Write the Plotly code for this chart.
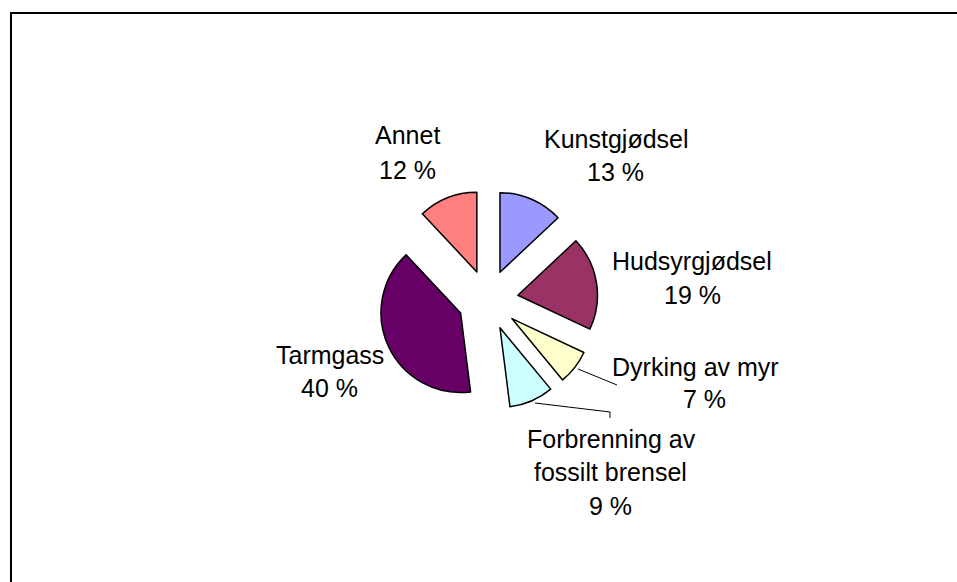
import plotly.graph_objects as go

# ---- data ----
categories = ["Kunstgjødsel", "Hudsyrgjødsel", "Dyrking av myr",
              "Forbrenning av fossilt brensel", "Tarmgass", "Annet"]
values = [13, 19, 7, 9, 40, 12]
colors = ["#9999FF", "#993366", "#FFFFCC", "#CCFFFF", "#660066", "#FF8080"]

W, H = 957, 582

fig = go.Figure(go.Pie(
    labels=categories,
    values=values,
    sort=False,
    direction="clockwise",
    rotation=0,
    pull=[0.38] * len(values),
    marker=dict(colors=colors, line=dict(color="black", width=1.5)),
    textinfo="none",
    hoverinfo="label+percent",
    domain=dict(x=[0.3951, 0.6247], y=[0.2954, 0.6736]),
    showlegend=False,
))

# label layout (pixel centres of each text line): name lines, then percentage line
label_lines = {
    "Kunstgjødsel": ["Kunstgjødsel"],
    "Hudsyrgjødsel": ["Hudsyrgjødsel"],
    "Dyrking av myr": ["Dyrking av myr"],
    "Forbrenning av fossilt brensel": ["Forbrenning av", "fossilt brensel"],
    "Tarmgass": ["Tarmgass"],
    "Annet": ["Annet"],
}
line_pos = {
    "Kunstgjødsel": [(616, 139), (615, 172)],
    "Hudsyrgjødsel": [(692, 261), (692, 295)],
    "Dyrking av myr": [(695, 367), (704, 399)],
    "Forbrenning av fossilt brensel": [(611, 439), (610, 472), (610, 506)],
    "Tarmgass": [(330, 355), (329, 388)],
    "Annet": [(407, 135), (407, 170)],
}

annotations = []
for cat, val in zip(categories, values):
    lines = label_lines[cat] + [f"{val} %"]
    for txt, (px, py) in zip(lines, line_pos[cat]):
        annotations.append(dict(
            x=px / W, y=1 - py / H, xref="paper", yref="paper",
            text=txt, showarrow=False, xanchor="center", yanchor="middle",
            font=dict(family="Liberation Sans, Arial, sans-serif", size=25, color="black"),
        ))

def seg(pts, width=1):
    path = "M " + " L ".join(f"{x / W},{1 - y / H}" for x, y in pts)
    return dict(type="path", xref="paper", yref="paper", path=path,
                line=dict(color="black", width=width))

shapes = [
    # chart frame (left and top edges visible in the crop)
    seg([(11, H + 5), (11, 13), (W + 5, 13)], width=2),
    # leader lines
    seg([(578, 369), (617, 385)]),
    seg([(535, 403), (610, 412), (610, 418)]),
]

fig.update_layout(
    width=W, height=H,
    margin=dict(l=0, r=0, t=0, b=0),
    paper_bgcolor="white",
    plot_bgcolor="white",
    annotations=annotations,
    shapes=shapes,
)

fig.write_html("out.html",
               config={"displayModeBar": False},
               post_script="document.body.style.margin='0';document.body.style.overflow='hidden';")
